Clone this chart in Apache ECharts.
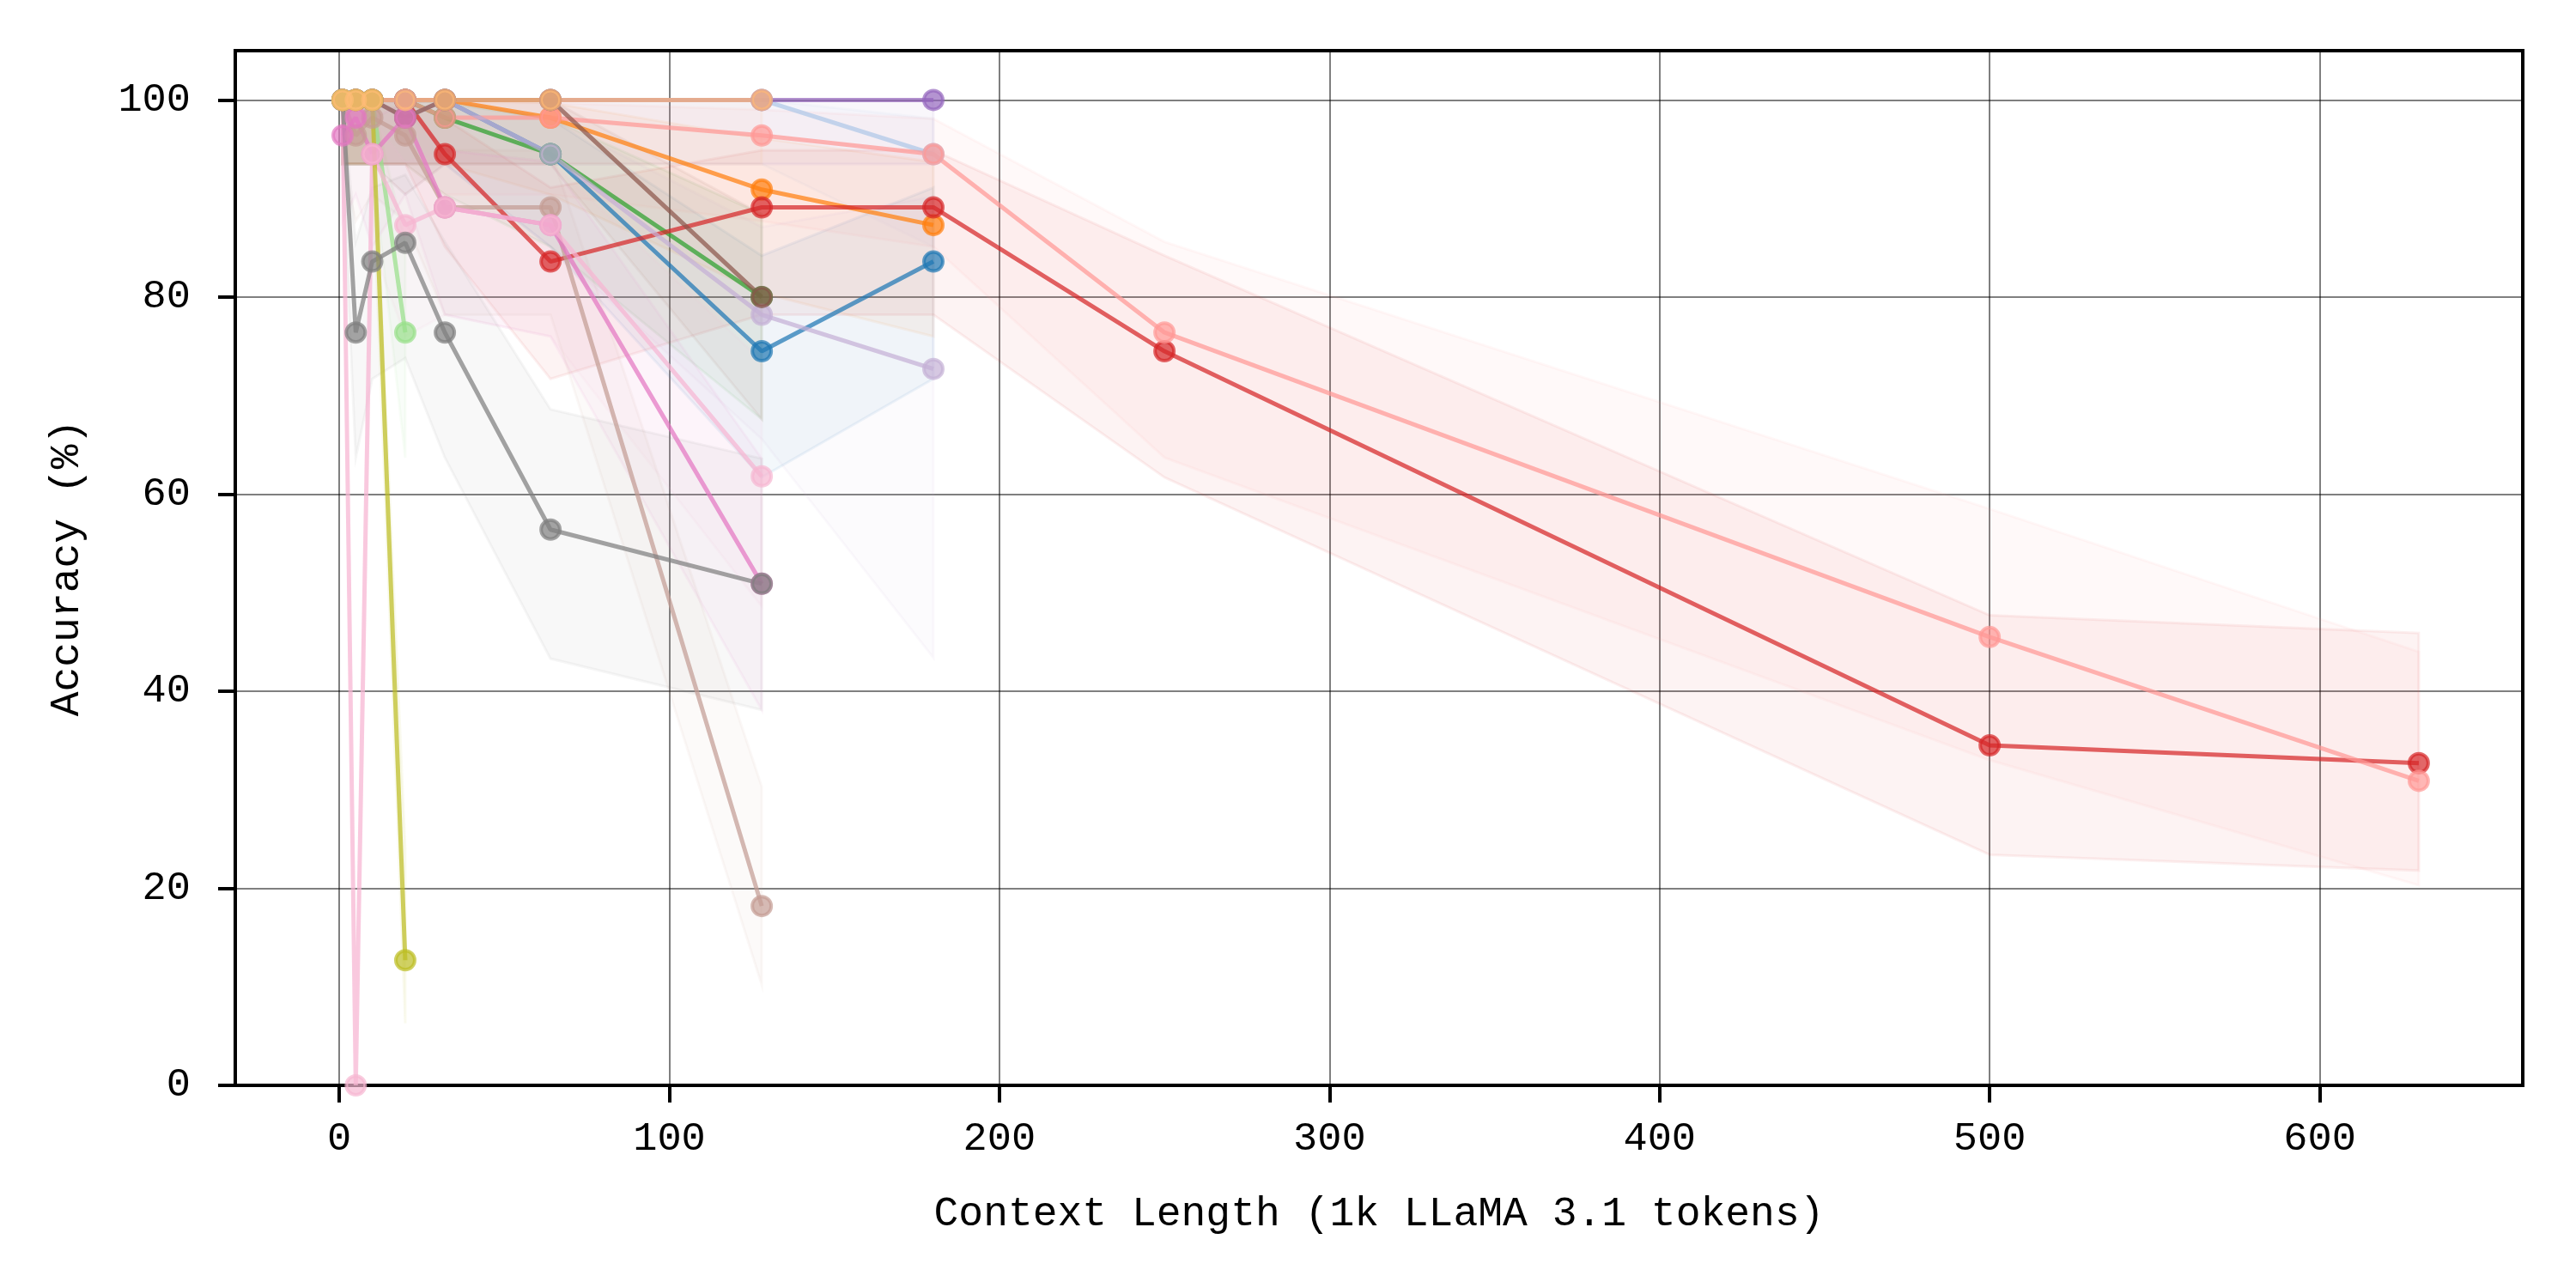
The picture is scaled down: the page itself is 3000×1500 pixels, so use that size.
<!DOCTYPE html>
<html><head><meta charset="utf-8">
<script src="https://cdn.jsdelivr.net/npm/echarts@6/dist/echarts.min.js"></script>
<style>html,body{margin:0;padding:0;background:#fff}#c{width:3000px;height:1500px}</style>
</head><body><div id="c"></div>
<script>
// x values: context length (1k LLaMA 3.1 tokens)
const contextLengths = [1, 5, 10, 20, 32, 64, 128, 180, 250, 500, 630];

// accuracy (%) per model, null = not evaluated
const accBlue        = [100, 100, 100, 100, 100, 94.5, 74.5, 83.6, null, null, null];
const accLightBlue   = [100, 100, 100, 100, 100, 100, 100, 94.5, null, null, null];
const accOrange      = [100, 100, 100, 100, 100, 98.2, 90.9, 87.3, null, null, null];
const accGreen       = [100, 100, 100, 100, 98.2, 94.5, 80, null, null, null, null];
const accLightGreen  = [100, 100, 100, 76.4, null, null, null, null, null, null, null];
const accRed         = [100, 100, 100, 100, 94.5, 83.6, 89.1, 89.1, 74.5, 34.5, 32.7];
const accLightRed    = [100, 100, 100, 100, 98.2, 98.2, 96.4, 94.5, 76.4, 45.5, 30.9];
const accPurple      = [100, 100, 100, 100, 100, 100, 100, 100, null, null, null];
const accLightPurple = [100, 100, 100, 98.2, 100, 94.5, 78.2, 72.7, null, null, null];
const accBrown       = [100, 100, 100, 98.2, 100, 100, 80, null, null, null, null];
const accLightBrown  = [100, 96.4, 98.2, 96.4, 89.1, 89.1, 18.2, null, null, null, null];
const accPink        = [96.4, 98.2, 94.5, 98.2, 89.1, 87.3, 50.9, null, null, null, null];
const accLightPink   = [100, 0, 94.5, 87.3, 89.1, 87.3, 61.8, null, null, null, null];
const accGray        = [100, 76.4, 83.6, 85.5, 76.4, 56.4, 50.9, null, null, null, null];
const accOlive       = [100, 100, 100, 12.7, null, null, null, null, null, null, null];
const accLightOrange = [100, 100, 100, 100, 100, 100, 100, null, null, null, null];

// shaded confidence band read for each accuracy level: [level, low, high]
const ciLevel = [100, 98.2, 96.4, 94.5, 90.9, 89.1, 87.3, 85.5, 83.6, 80, 78.2, 76.4, 74.5, 72.7, 61.8, 56.4, 50.9, 45.5, 34.5, 32.7, 30.9, 18.2, 12.7, 0];
const ciLow   = [93.5, 90.4, 87.7, 85.1, 80.4, 78.2, 76.0, 73.8, 71.7, 67.6, 65.6, 63.7, 61.7, 43.4, 48.6, 43.3, 38.1, 33.0, 23.4, 21.8, 20.3, 10.2, 6.3, 0];
const ciHigh  = [100, 99.7, 99.0, 98.1, 96.1, 94.9, 93.7, 92.4, 91.1, 88.4, 87.1, 85.6, 84.2, 90.2, 73.5, 68.6, 63.6, 58.5, 47.7, 45.9, 44.0, 30.3, 24.0, 6.5];

const xTicks = [0, 100, 200, 300, 400, 500, 600];
const yTicks = [0, 20, 40, 60, 80, 100];

const models = [
  ['blue', '#1f77b4', accBlue],
  ['lightBlue', '#aec7e8', accLightBlue],
  ['orange', '#ff7f0e', accOrange],
  ['green', '#2ca02c', accGreen],
  ['lightGreen', '#98df8a', accLightGreen],
  ['red', '#d62728', accRed],
  ['lightRed', '#ff9896', accLightRed],
  ['purple', '#9467bd', accPurple],
  ['lightPurple', '#c5b0d5', accLightPurple],
  ['brown', '#8c564b', accBrown],
  ['lightBrown', '#c49c94', accLightBrown],
  ['pink', '#e377c2', accPink],
  ['lightPink', '#f7b6d2', accLightPink],
  ['gray', '#7f7f7f', accGray],
  ['olive', '#bcbd22', accOlive],
  ['lightOrange', '#ffbb78', accLightOrange]
];

function rgba(hex, a) {
  const n = parseInt(hex.slice(1), 16);
  return 'rgba(' + ((n >> 16) & 255) + ',' + ((n >> 8) & 255) + ',' + (n & 255) + ',' + a + ')';
}
function ciIndex(v) {
  for (let i = 0; i < ciLevel.length; i++) if (Math.abs(ciLevel[i] - v) < 0.05) return i;
  return -1;
}

const FONT = 'Liberation Mono';
const series = [];
models.forEach(([name, color, acc]) => {
  const pts = [];
  acc.forEach((v, i) => { if (v !== null) pts.push([contextLengths[i], v]); });
  const band = pts.map(p => { const k = ciIndex(p[1]); return [p[0], ciLow[k], ciHigh[k]]; });
  series.push({
    type: 'custom', name: name + ' band', z: 1, silent: true, clip: true,
    coordinateSystem: 'cartesian2d',
    data: [[band[0][0], band[0][1]]],
    renderItem: function (params, api) {
      const up = band.map(b => api.coord([b[0], b[2]]));
      const lo = band.map(b => api.coord([b[0], b[1]])).reverse();
      return {
        type: 'polygon',
        shape: { points: up.concat(lo) },
        style: { fill: rgba(color, 0.055), stroke: rgba(color, 0.07), lineWidth: 3 }
      };
    }
  });
});
models.forEach(([name, color, acc]) => {
  const pts = [];
  acc.forEach((v, i) => { if (v !== null) pts.push([contextLengths[i], v]); });
  series.push({
    type: 'line', name: name, z: 3, data: pts,
    symbol: 'circle', symbolSize: 22, showSymbol: true, clip: true,
    lineStyle: { color: rgba(color, 0.72), width: 5 },
    itemStyle: { color: rgba(color, 0.7), borderColor: rgba(color, 0.7), borderWidth: 4 },
    emphasis: { disabled: true }
  });
});

const chart = echarts.init(document.getElementById('c'));
chart.setOption({
  animation: false,
  backgroundColor: '#fff',
  grid: { left: 274, right: 62, top: 59, bottom: 236, show: true, borderColor: '#000', borderWidth: 4, backgroundColor: 'transparent' },
  xAxis: {
    type: 'value', min: -31.5, max: 661.5,
    name: 'Context Length (1k LLaMA 3.1 tokens)', nameLocation: 'middle', nameGap: 126,
    nameTextStyle: { fontFamily: FONT, fontSize: 48, color: '#000' },
    axisLine: { show: true, onZero: false, lineStyle: { color: '#000', width: 4 } },
    axisTick: { show: true, inside: false, length: 20, customValues: xTicks, lineStyle: { color: '#000', width: 4 } },
    axisLabel: { customValues: xTicks, fontFamily: FONT, fontSize: 47, color: '#000', margin: 39 },
    splitLine: { show: true, lineStyle: { color: 'rgba(0,0,0,0.5)', width: 2 } }
  },
  yAxis: {
    type: 'value', min: 0, max: 105, interval: 20,
    name: 'Accuracy (%)', nameLocation: 'middle', nameGap: 172,
    nameTextStyle: { fontFamily: FONT, fontSize: 48, color: '#000' },
    axisLine: { show: true, onZero: false, lineStyle: { color: '#000', width: 4 } },
    axisTick: { show: true, inside: false, length: 20, customValues: yTicks, lineStyle: { color: '#000', width: 4 } },
    axisLabel: { customValues: yTicks, fontFamily: FONT, fontSize: 47, color: '#000', margin: 52 },
    splitLine: { show: true, lineStyle: { color: 'rgba(0,0,0,0.5)', width: 2 } }
  },
  series: series
});
</script></body></html>
